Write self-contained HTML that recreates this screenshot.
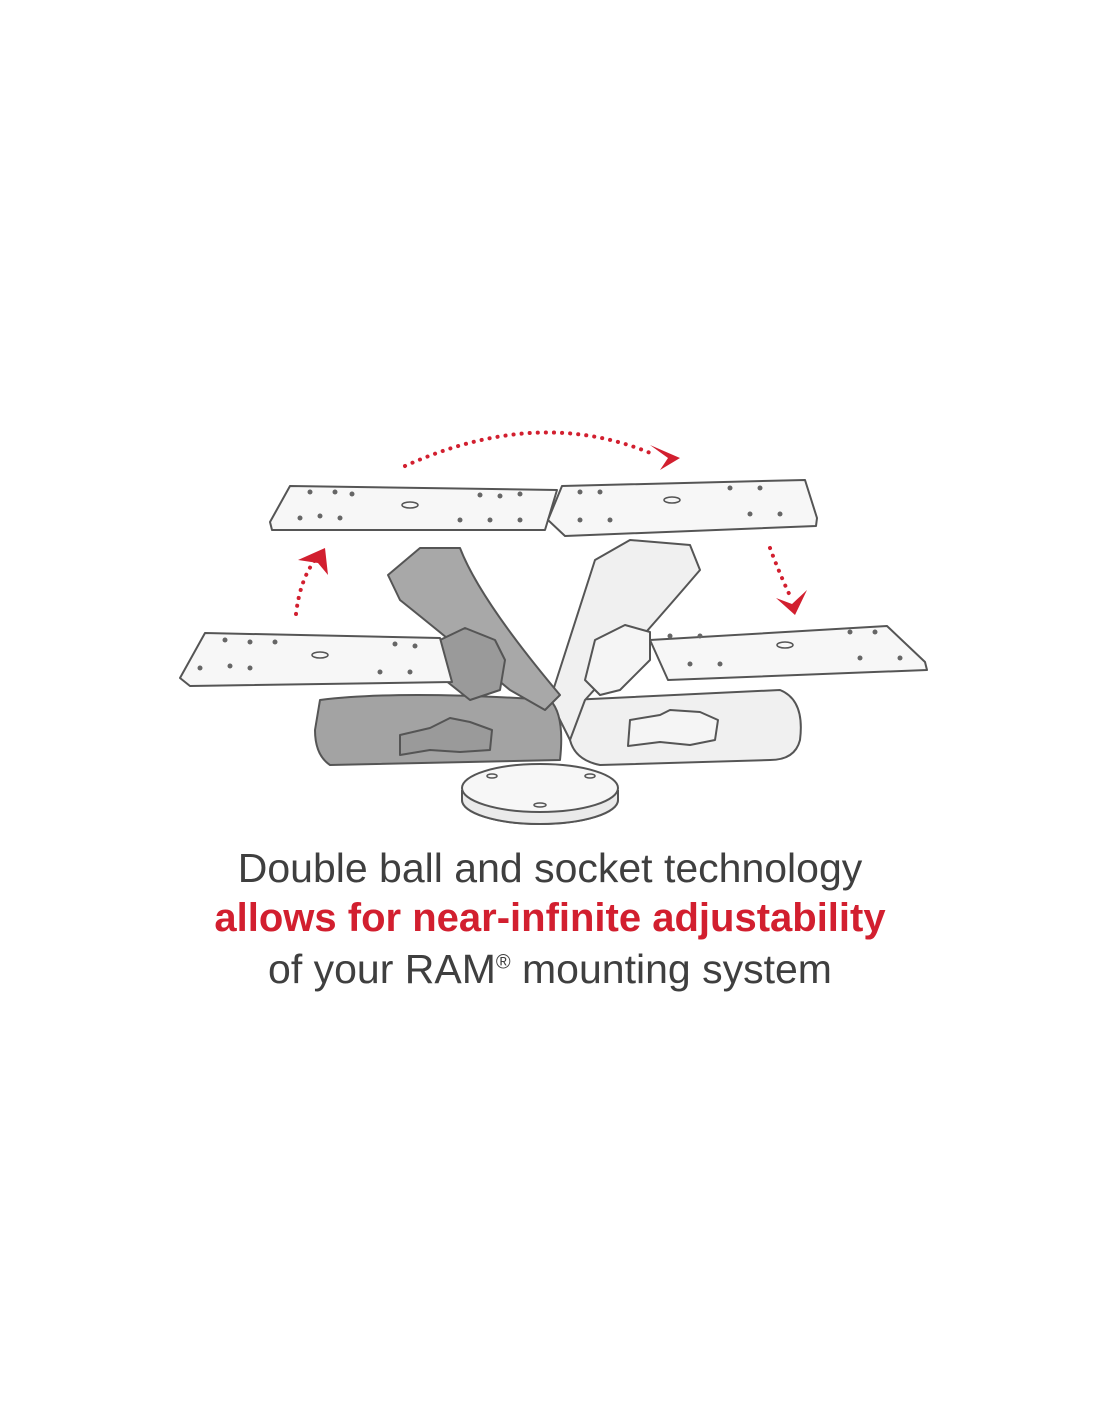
<!DOCTYPE html>
<html><head><meta charset="utf-8"><style>
html,body{margin:0;padding:0;background:#fff;}
body{width:1100px;height:1422px;position:relative;overflow:hidden;}
.t{position:absolute;left:0;width:1100px;text-align:center;font-family:"Liberation Sans",sans-serif;font-size:41px;color:#3f3f3f;white-space:nowrap;}
.r{color:#d21f2f;font-weight:bold;font-size:40px;}
</style></head><body>
<svg width="1100" height="1422" style="position:absolute;left:0;top:0">
<g stroke="#555" stroke-width="2" stroke-linejoin="round">
<ellipse cx="540" cy="800" rx="78" ry="24" fill="#f2f2f2"/>
<path d="M462 790 L462 800 A78 24 0 0 0 618 800 L618 790" fill="#eaeaea"/>
<ellipse cx="540" cy="788" rx="78" ry="24" fill="#f7f7f7"/>
<path d="M570 700 L780 690 Q805 700 800 740 Q795 760 770 760 L600 765 Q575 760 570 740 Z" fill="#f0f0f0"/>
<path d="M595 560 L630 540 L690 545 L700 570 Q640 640 585 700 L570 740 L550 700 Z" fill="#f0f0f0"/>
<path d="M630 720 L660 715 L670 710 L700 712 L718 720 L715 740 L690 745 L660 742 L628 746 Z" fill="#f5f5f5"/>
<path d="M595 640 L625 625 L650 632 L650 660 L620 690 L600 695 L585 680 Z" fill="#f5f5f5"/>
<path d="M320 700 Q400 690 550 700 Q565 715 560 760 L330 765 Q315 755 315 730 Z" fill="#a3a3a3"/>
<path d="M388 575 L420 548 L460 548 Q480 600 560 695 L545 710 L510 690 Q450 640 400 600 Z" fill="#a8a8a8"/>
<path d="M400 735 L430 728 L450 718 L470 722 L492 730 L490 750 L460 752 L430 750 L400 755 Z" fill="#9a9a9a"/>
<path d="M440 640 L465 628 L495 640 L505 660 L500 690 L470 700 L445 680 Z" fill="#9a9a9a"/>
<path d="M180 678 L205 633 L440 638 L452 682 L190 686 Z" fill="#f7f7f7"/>
<path d="M650 640 L887 626 L925 662 L927 670 L668 680 Z" fill="#f7f7f7"/>
<path d="M270 522 L290 486 L557 490 L545 530 L272 530 Z" fill="#f7f7f7"/>
<path d="M548 520 L562 486 L805 480 L817 518 L816 526 L565 536 Z" fill="#f7f7f7"/>
</g>
<g fill="none" stroke="#555" stroke-width="1.5">
<ellipse cx="410" cy="505" rx="8" ry="3"/><ellipse cx="672" cy="500" rx="8" ry="3"/>
<ellipse cx="320" cy="655" rx="8" ry="3"/><ellipse cx="785" cy="645" rx="8" ry="3"/>
<ellipse cx="540" cy="805" rx="6" ry="2"/><ellipse cx="492" cy="776" rx="5" ry="2"/><ellipse cx="590" cy="776" rx="5" ry="2"/>
</g>
<g fill="#666">
<circle cx="310" cy="492" r="2.5"/><circle cx="335" cy="492" r="2.5"/><circle cx="352" cy="494" r="2.5"/><circle cx="480" cy="495" r="2.5"/><circle cx="500" cy="496" r="2.5"/><circle cx="520" cy="494" r="2.5"/>
<circle cx="300" cy="518" r="2.5"/><circle cx="320" cy="516" r="2.5"/><circle cx="340" cy="518" r="2.5"/><circle cx="460" cy="520" r="2.5"/><circle cx="490" cy="520" r="2.5"/><circle cx="520" cy="520" r="2.5"/>
<circle cx="580" cy="492" r="2.5"/><circle cx="600" cy="492" r="2.5"/><circle cx="730" cy="488" r="2.5"/><circle cx="760" cy="488" r="2.5"/><circle cx="580" cy="520" r="2.5"/><circle cx="610" cy="520" r="2.5"/><circle cx="750" cy="514" r="2.5"/><circle cx="780" cy="514" r="2.5"/>
<circle cx="225" cy="640" r="2.5"/><circle cx="250" cy="642" r="2.5"/><circle cx="275" cy="642" r="2.5"/><circle cx="395" cy="644" r="2.5"/><circle cx="415" cy="646" r="2.5"/><circle cx="200" cy="668" r="2.5"/><circle cx="230" cy="666" r="2.5"/><circle cx="250" cy="668" r="2.5"/><circle cx="380" cy="672" r="2.5"/><circle cx="410" cy="672" r="2.5"/>
<circle cx="670" cy="636" r="2.5"/><circle cx="700" cy="636" r="2.5"/><circle cx="850" cy="632" r="2.5"/><circle cx="875" cy="632" r="2.5"/><circle cx="690" cy="664" r="2.5"/><circle cx="720" cy="664" r="2.5"/><circle cx="860" cy="658" r="2.5"/><circle cx="900" cy="658" r="2.5"/>
</g>
<g fill="none" stroke="#d21f2f" stroke-width="4" stroke-linecap="round" stroke-dasharray="0.1 8">
<path d="M405 466 Q540 405 655 455"/>
<path d="M296 614 Q300 580 315 560"/>
<path d="M770 548 Q780 575 792 600"/>
</g>
<g fill="#d21f2f">
<path d="M650 445 L680 458 L660 470 L668 458 Z"/>
<path d="M298 560 L325 548 L328 575 L318 563 Z"/>
<path d="M776 598 L792 604 L807 590 L795 615 Z"/>
</g>
</svg>
<div class="t" style="top:845px">Double ball and socket technology</div>
<div class="t r" style="top:896px">allows for near-infinite adjustability</div>
<div class="t" style="top:946px">of your RAM<sup style="font-size:20px">®</sup> mounting system</div>
</body></html>
